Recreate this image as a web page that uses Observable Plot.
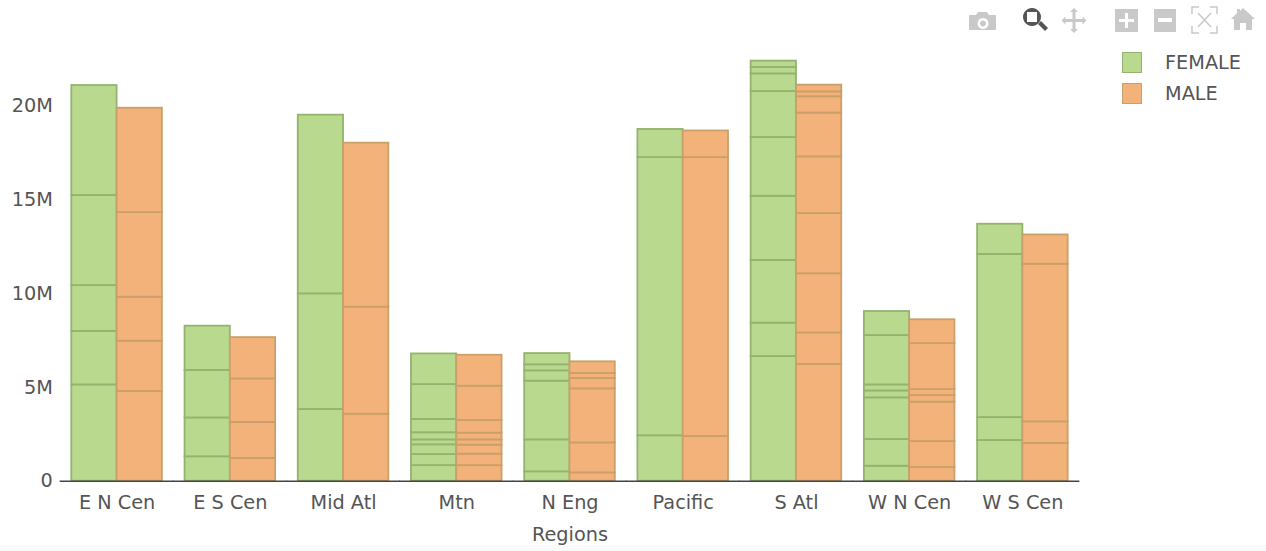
<!DOCTYPE html>
<html>
<head>
<meta charset="utf-8">
<script src="https://cdn.jsdelivr.net/npm/d3@7"></script>
<script src="https://cdn.jsdelivr.net/npm/@observablehq/plot@0.6"></script>
<style>
html,body{margin:0;padding:0;background:#fff;width:1266px;height:551px;overflow:hidden}
#wrap{position:relative;width:1266px;height:551px;font-family:"DejaVu Sans",sans-serif;color:#555}
#strip{position:absolute;left:0;top:545px;width:1266px;height:6px;background:#fafafa}
#chart{position:relative}
#chart svg{display:block}
.lg{position:absolute;left:1122px;height:21px;width:20px;box-sizing:border-box;border-width:1.7px;border-style:solid}
.lt{position:absolute;left:1165px;font-size:19.3px;line-height:22px}
#bar{position:absolute;left:0;top:0}
</style>
</head>
<body>
<div id="wrap">
<div id="strip"></div>
<div id="chart"></div>
<svg id="bar" width="1266" height="40" fill="#c9c9c9">
  <path d="M970 15h6l2-3h9l2 3h6a1 1 0 0 1 1 1v13a1 1 0 0 1-1 1h-25a1 1 0 0 1-1-1v-13a1 1 0 0 1 1-1zm13 3a5.5 5.5 0 1 0 .01 0zm0 2.500a3 3 0 1 1-.01 0z" fill-rule="evenodd"/>
  <path d="M1032 8a9 9 0 1 0 .01 0zm-5 4h10v10h-10z" fill="#555" fill-rule="evenodd"/>
  <path d="M1038 24l3-3 7 7-3 3z" fill="#555"/>
  <path d="M1074 8l4 4h-2.500v7h7v-2.500l4 4-4 4v-2.500h-7v7h2.500l-4 4-4-4h2.500v-7h-7v2.500l-4-4 4-4v2.500h7v-7h-2.500z"/>
  <path d="M1115 9h23v23h-23zM1125 13v6h-6v3h6v6h3v-6h6v-3h-6v-6z" fill-rule="evenodd"/>
  <path d="M1154 9h22v23h-22zM1158 18v4h14v-4z" fill-rule="evenodd"/>
  <path d="M1192 14v-7h7M1210 7h7v7M1217 26v7h-7M1199 33h-7v-7M1198 13l13 14M1211 13l-13 14" fill="none" stroke="#c9c9c9" stroke-width="1.500"/>
  <path d="M1243 8l12 11h-3v11h-6v-7h-6v7h-6v-11h-3l6-6v-4h3v2z"/>
</svg>
<div class="lg" style="top:52px;background:#b9da8e;border-color:#93b36f"></div>
<div class="lt" style="top:52px">FEMALE</div>
<div class="lg" style="top:83px;background:#f3b27a;border-color:#c9a06a"></div>
<div class="lt" style="top:83px">MALE</div>
</div>
<script>
const regions = ["E N Cen","E S Cen","Mid Atl","Mtn","N Eng","Pacific","S Atl","W N Cen","W S Cen"];
const sexes = ["FEMALE","MALE"];
const yTicks = [0,5,10,15,20];
// cumulative segment tops per region, in millions
const femaleTops = [
  [5.13,7.98,10.42,15.22,21.08],
  [1.30,3.37,5.90,8.26],
  [3.82,9.98,19.50],
  [0.83,1.42,1.94,2.20,2.58,3.29,5.15,6.78],
  [0.50,2.20,5.33,5.88,6.20,6.80],
  [2.42,17.24,18.74],
  [6.64,8.42,11.76,15.18,18.31,20.76,21.70,22.04,22.38],
  [0.80,2.22,4.44,4.81,5.13,7.76,9.04],
  [2.17,3.39,12.08,13.69]
];
const maleTops = [
  [4.78,7.46,9.80,14.31,19.87],
  [1.21,3.13,5.45,7.65],
  [3.57,9.27,18.01],
  [0.83,1.44,1.92,2.20,2.56,3.23,5.06,6.71],
  [0.44,2.04,4.92,5.47,5.74,6.36],
  [2.38,17.24,18.66],
  [6.22,7.90,11.05,14.26,17.28,19.61,20.48,20.74,21.10],
  [0.73,2.11,4.21,4.56,4.88,7.33,8.60],
  [2.01,3.16,11.56,13.12]
];
const toRows = (tops, sex) => tops.flatMap((list,i) =>
  list.map((hi,j) => ({region:regions[i], sex, lo:j?list[j-1]:0, hi})));
const femaleRows = toRows(femaleTops,"FEMALE");
const maleRows = toRows(maleTops,"MALE");
const font = '"DejaVu Sans",sans-serif';

const plot = Plot.plot({
  width:1266, height:551,
  marginLeft:60, marginRight:187, marginTop:39.6, marginBottom:70.3,
  style:{fontFamily:font, fontSize:"19.3px", color:"#555", background:"transparent"},
  fx:{domain:regions, paddingInner:0.2, paddingOuter:0.1, label:null, axis:null, round:false},
  x:{domain:sexes, padding:0, axis:null, round:false},
  y:{domain:[0,23.5], axis:null},
  marks:[
    Plot.barY(femaleRows,{fx:"region",x:"sex",y1:"lo",y2:"hi",fill:"#b9da8e",stroke:"#93b36f",strokeWidth:1.8}),
    Plot.barY(maleRows,{fx:"region",x:"sex",y1:"lo",y2:"hi",fill:"#f3b27a",stroke:"#c9a06a",strokeWidth:1.8}),
    Plot.ruleY([0],{stroke:"#444",strokeWidth:1.5,insetLeft:-11.7,insetRight:-11.7}),
    Plot.axisY({ticks:yTicks,tickSize:0,tickPadding:19,label:null,anchor:"left",fill:"#555",
      tickFormat:d=>d===0?"0":d+"M"}),
    Plot.axisFx({anchor:"bottom",tickSize:0,tickPadding:14,fill:"#555",
      label:"Regions",labelAnchor:"center",labelArrow:"none",labelOffset:60})
  ]
});
document.getElementById("chart").appendChild(plot);
</script>
</body>
</html>
